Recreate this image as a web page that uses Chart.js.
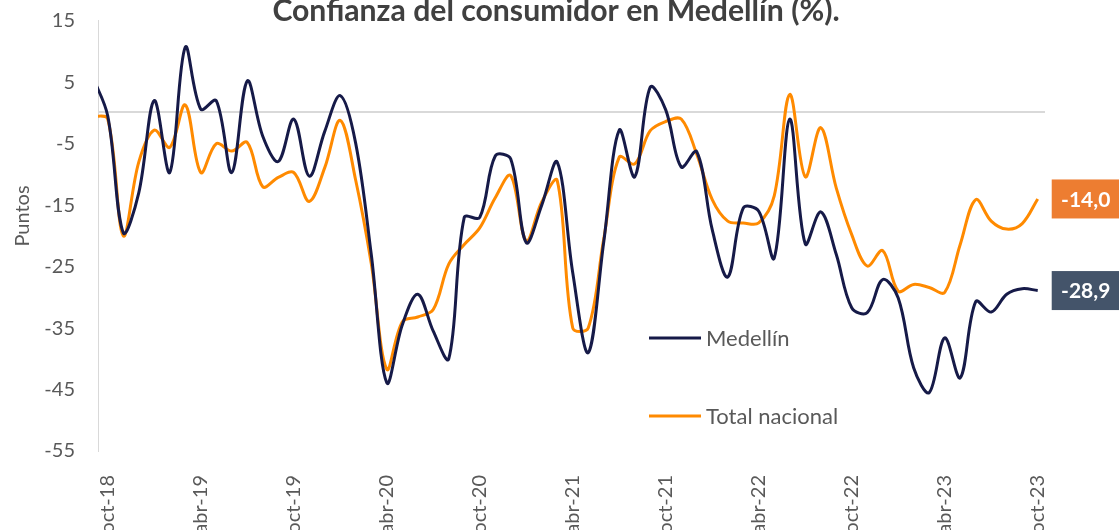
<!DOCTYPE html>
<html><head><meta charset="utf-8">
<script src="https://cdn.jsdelivr.net/npm/chart.js@4.4.1/dist/chart.umd.min.js"></script>
<style>html,body{margin:0;padding:0;background:#fff;overflow:hidden}#wrap{width:1119px;height:530px}</style>
</head><body><div id="wrap"><canvas id="c" width="1119" height="530"></canvas></div>
<script>
const chartTitle = 'Confianza del consumidor en Medellín (%).';
const yTitle = 'Puntos';
const seriesNames = ['Medellín', 'Total nacional'];
const categories = ['sep-18','oct-18','nov-18','dic-18','ene-19','feb-19','mar-19','abr-19','may-19','jun-19','jul-19','ago-19','sep-19','oct-19','nov-19','dic-19','ene-20','feb-20','mar-20','abr-20','may-20','jun-20','jul-20','ago-20','sep-20','oct-20','nov-20','dic-20','ene-21','feb-21','mar-21','abr-21','may-21','jun-21','jul-21','ago-21','sep-21','oct-21','nov-21','dic-21','ene-22','feb-22','mar-22','abr-22','may-22','jun-22','jul-22','ago-22','sep-22','oct-22','nov-22','dic-22','ene-23','feb-23','mar-23','abr-23','may-23','jun-23','jul-23','ago-23','sep-23','oct-23'];
const medellin = [6.0,-0.5,-19.5,-13.0,2.0,-9.7,10.7,0.6,2.0,-9.7,5.2,-3.8,-7.9,-1.0,-10.3,-3.0,2.8,-5.0,-23.0,-43.9,-34.5,-29.5,-35.5,-40.0,-17.0,-17.0,-7.0,-7.5,-21.1,-15.0,-8.0,-26.0,-39.0,-21.0,-2.8,-10.4,4.2,0.5,-8.8,-6.3,-19.0,-26.7,-15.5,-16.0,-23.6,-1.0,-21.3,-16.1,-23.0,-31.7,-32.5,-27.1,-30.1,-41.5,-45.5,-36.6,-43.1,-30.7,-32.4,-29.5,-28.6,-28.9];
const nacional = [-0.5,-1.0,-20.0,-8.0,-2.8,-5.6,1.3,-9.7,-5.0,-6.2,-4.8,-12.0,-10.5,-9.7,-14.4,-8.9,-1.2,-11.0,-24.5,-41.7,-34.0,-33.2,-32.0,-24.6,-21.4,-18.7,-13.8,-10.2,-20.8,-14.5,-11.0,-35.0,-35.0,-20.5,-7.2,-8.3,-2.9,-1.4,-1.0,-6.7,-14.1,-17.6,-17.9,-17.9,-13.5,3.0,-10.4,-2.4,-12.2,-19.8,-24.9,-22.4,-29.0,-27.9,-28.4,-29.2,-21.4,-14.1,-17.6,-18.9,-18.0,-14.0];
const tickLabels = ['oct-18','abr-19','oct-19','abr-20','oct-20','abr-21','oct-21','abr-22','oct-22','abr-23','oct-23'];
const yTicks = [15,5,-5,-15,-25,-35,-45,-55];

const NAVY = '#161a48', ORANGE = '#ff8a00';
const BOX = ['#44546a', '#ed7d31'];
const GREY = '#595959';
const FONT = 'Lato';

const toXY = arr => arr.map((v, i) => ({x: i, y: v}));
const fmt = v => v.toFixed(1).replace('.', ',');

const overlay = {
  id: 'overlay',
  beforeDatasetsDraw(chart) {
    const {ctx, chartArea: a, scales: {y}} = chart;
    const py = y.getPixelForValue(0) - 1;
    ctx.save();
    ctx.strokeStyle = '#d9d9d9'; ctx.lineWidth = 2;
    ctx.beginPath(); ctx.moveTo(a.left, py); ctx.lineTo(a.right, py); ctx.stroke();
    ctx.restore();
  },
  afterDraw(chart) {
    const ctx = chart.ctx;
    ctx.save();
    ctx.font = 'bold 28px ' + FONT;
    const w = ctx.measureText(chartTitle).width;
    const size = 28 * 568 / w;
    ctx.font = 'bold ' + size.toFixed(1) + 'px ' + FONT;
    ctx.fillStyle = '#404040'; ctx.textAlign = 'center'; ctx.textBaseline = 'alphabetic';
    ctx.fillText(chartTitle, 556, 21);
    ctx.save();
    ctx.translate(23, 216); ctx.rotate(-Math.PI / 2);
    ctx.font = '20px ' + FONT; ctx.fillStyle = GREY; ctx.textBaseline = 'middle'; ctx.textAlign = 'center';
    ctx.fillText(yTitle, 0, 0);
    ctx.restore();
    const ly = [338, 416];
    chart.data.datasets.forEach((ds, i) => {
      ctx.strokeStyle = ds.borderColor; ctx.lineWidth = 3;
      ctx.beginPath(); ctx.moveTo(649, ly[i]); ctx.lineTo(701, ly[i]); ctx.stroke();
      ctx.font = '22px ' + FONT; ctx.fillStyle = GREY; ctx.textAlign = 'left'; ctx.textBaseline = 'middle';
      ctx.fillText(ds.label, 706, ly[i] + 1);
    });
    chart.data.datasets.forEach((ds, i) => {
      const meta = chart.getDatasetMeta(i);
      const pt = meta.data[meta.data.length - 1];
      const val = ds.data[ds.data.length - 1].y;
      const bx = pt.x + 14, bw = 68, bh = 39;
      ctx.fillStyle = BOX[i];
      ctx.fillRect(bx, pt.y - bh / 2, bw, bh);
      ctx.font = 'bold 21px ' + FONT; ctx.fillStyle = '#ffffff'; ctx.textAlign = 'center'; ctx.textBaseline = 'middle';
      ctx.fillText(fmt(val), bx + bw / 2, pt.y + 1);
    });
    ctx.restore();
  }
};

new Chart(document.getElementById('c'), {
  type: 'line',
  data: {
    datasets: [
      {label: seriesNames[0], data: toXY(medellin), borderColor: NAVY, borderWidth: 3, pointRadius: 0, tension: 0.35, clip: 0},
      {label: seriesNames[1], data: toXY(nacional), borderColor: ORANGE, borderWidth: 3, pointRadius: 0, tension: 0.35, clip: 0}
    ]
  },
  options: {
    responsive: false, animation: false,
    layout: {padding: {top: 20.7, right: 74, left: 0, bottom: 0}},
    plugins: {legend: {display: false}, title: {display: false}, tooltip: {enabled: false}},
    scales: {
      x: {
        type: 'linear', min: 0.37, max: 61.47,
        afterFit(s) { s.height = 79; s.paddingLeft = 0; s.paddingRight = 0; },
        afterBuildTicks(s) { s.ticks = tickLabels.map(l => ({value: categories.indexOf(l)})); },
        ticks: {autoSkip: false, minRotation: 90, maxRotation: 90, padding: 16, color: GREY,
                font: {family: FONT, size: 20}, callback: v => categories[v]},
        grid: {display: false}, border: {display: false}
      },
      y: {
        min: -55, max: 15,
        afterBuildTicks(s) { s.ticks = yTicks.map(v => ({value: v})); },
        afterFit(s) { s.width = 98; s.paddingTop = 0; s.paddingBottom = 0; },
        ticks: {padding: 23, color: GREY, font: {family: FONT, size: 20}},
        grid: {drawOnChartArea: false, drawTicks: false},
        border: {display: true, color: '#d9d9d9', width: 1}
      }
    }
  },
  plugins: [overlay]
});
</script>
</body></html>
